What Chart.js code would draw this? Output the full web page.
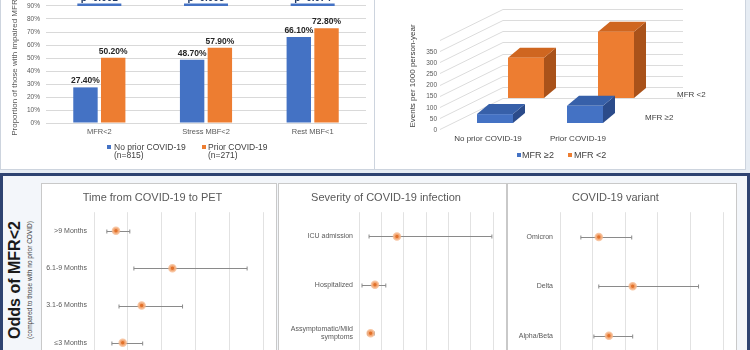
<!DOCTYPE html>
<html>
<head>
<meta charset="utf-8">
<script src="https://cdn.jsdelivr.net/npm/chart.js@4.4.0/dist/chart.umd.min.js"></script>
<style>
  html, body { margin: 0; padding: 0; width: 750px; height: 350px; overflow: hidden; background: #e6ecf3; font-family: "Liberation Sans", Arial, sans-serif; }
  canvas { position: absolute; }
  .box { position: absolute; box-sizing: border-box; background: #fff; border: 1px solid #cdd4de; }
  #bottom { position: absolute; box-sizing: border-box; left: 0; top: 173px; width: 750px; height: 200px; border: 3px solid #2e4371; background: #f3f6fa; }
  .panel { position: absolute; box-sizing: border-box; top: 183px; height: 200px; background: #fff; border: 1px solid #c9c9c9; }
  .lg { position: absolute; font-size: 8.5px; line-height: 8px; color: #404040; white-space: nowrap; }
  .sq { position: absolute; width: 4px; height: 4px; }
  .rot { position: absolute; transform: rotate(-90deg); text-align: center; white-space: nowrap; }
</style>
</head>
<body>
<div class="box" style="left:0;top:-10px;width:375px;height:180px"></div>
<div class="box" style="left:374px;top:-10px;width:372px;height:180px"></div>
<div id="bottom"></div>
<div class="panel" style="left:41px;width:236px"></div>
<div class="panel" style="left:278px;width:229px"></div>
<div class="panel" style="left:507px;width:230px"></div>

<canvas id="barChart" width="374" height="170" style="left:0;top:-25px"></canvas>
<canvas id="cubeChart" width="366" height="150" style="left:380px;top:0"></canvas>
<canvas id="timeChart" width="234" height="184" style="left:42px;top:184px"></canvas>
<canvas id="severityChart" width="227" height="180" style="left:279px;top:184px"></canvas>
<canvas id="variantChart" width="228" height="183" style="left:508px;top:184px"></canvas>

<!-- legends and free text -->
<div class="sq" style="left:107px;top:145px;background:#4472c4"></div>
<div class="lg" style="left:114px;top:143px">No prior COVID-19<br>(n=815)</div>
<div class="sq" style="left:202px;top:145px;background:#ed7d31"></div>
<div class="lg" style="left:208px;top:143px">Prior COVID-19<br>(n=271)</div>

<div class="rot" style="left:343px;top:71px;width:140px;height:10px;line-height:10px;font-size:8px;color:#404040">Events per 1000 person-year</div>
<div class="sq" style="left:517px;top:153px;background:#4472c4"></div>
<div class="lg" style="left:522px;top:150px;font-size:9px;line-height:10px">MFR ≥2</div>
<div class="sq" style="left:568px;top:153px;background:#ed7d31"></div>
<div class="lg" style="left:574px;top:150px;font-size:9px;line-height:10px">MFR &lt;2</div>

<div class="rot" style="left:-85px;top:270px;width:200px;height:20px;line-height:20px;font-size:16px;font-weight:bold;color:#1a1a1a">Odds of MFR&lt;2</div>
<div class="rot" style="left:-70px;top:276px;width:200px;height:8px;line-height:8px;font-size:6.5px;color:#404040">(compared to those with no prior COVID)</div>

<script>
Chart.defaults.font.family = '"Liberation Sans", Arial, sans-serif';

// top left: impaired flow proportions
var flowMeasures = ['MFR<2', 'Stress MBF<2', 'Rest MBF<1'];
var noPriorPct = [27.4, 48.7, 66.1];
var priorPct = [50.2, 57.9, 72.8];
var pValues = ['p<0.001', 'p=0.003', 'p=0.074'];

// top right: events per 1000 person-year
var covidGroups = ['No prior COVID-19', 'Prior COVID-19'];
var eventsMfrHigh = [40, 77];
var eventsMfrLow = [181, 298];

// bottom: odds of MFR<2
var timeGroups = ['>9 Months', '6.1-9 Months', '3.1-6 Months', '≤3 Months'];
var timeOdds = [0.65, 2.32, 1.41, 0.85];
var timeLow = [0.38, 1.18, 0.74, 0.53];
var timeHigh = [1.06, 4.53, 2.62, 1.44];

var severityGroups = ['ICU admission', 'Hospitalized', ['Assymptomatic/Mild', 'symptoms']];
var severityOdds = [3.4, 1.43, 1.04];
var severityLow = [0.9, 0.27, 0.78];
var severityHigh = [11.9, 2.4, 1.36];

var variantGroups = ['Omicron', 'Delta', 'Alpha/Beta'];
var variantOdds = [1.19, 2.23, 1.5];
var variantLow = [0.64, 1.19, 1.04];
var variantHigh = [2.2, 4.25, 2.23];

// tick padding is also added above/below a vertical axis, drop it
function fixWidth(w) {
    return function (s) {
        s.width = w;
        s.paddingTop = 0;
        s.paddingBottom = 0;
    };
}

var barLabels = {
    id: 'barLabels',
    afterDatasetsDraw: function (chart) {
        var ctx = chart.ctx;
        ctx.save();
        ctx.font = 'bold 8.5px "Liberation Sans", Arial';
        ctx.fillStyle = '#262626';
        ctx.textAlign = 'center';
        ctx.textBaseline = 'bottom';
        chart.data.datasets.forEach(function (ds, i) {
            chart.getDatasetMeta(i).data.forEach(function (bar, j) {
                ctx.fillText(ds.data[j].toFixed(2) + '%', bar.x, bar.y - 2);
            });
        });
        var xs = chart.scales.x, ys = chart.scales.y;
        var yLine = ys.getPixelForValue(91);
        pValues.forEach(function (p, j) {
            var cx = xs.getPixelForValue(j);
            ctx.strokeStyle = '#4472c4';
            ctx.lineWidth = 2.5;
            ctx.beginPath();
            ctx.moveTo(cx - 22, yLine);
            ctx.lineTo(cx + 22, yLine);
            ctx.stroke();
            ctx.fillStyle = '#1f3864';
            ctx.font = 'bold 10px "Liberation Sans", Arial';
            ctx.textBaseline = 'alphabetic';
            ctx.fillText(p, cx, yLine - 4);
        });
        ctx.restore();
    }
};

new Chart(document.getElementById('barChart').getContext('2d'), {
    type: 'bar',
    data: {
        labels: flowMeasures,
        datasets: [{
            label: 'No prior COVID-19 (n=815)',
            data: noPriorPct,
            backgroundColor: '#4472c4',
            categoryPercentage: 0.52,
            barPercentage: 0.88
        }, {
            label: 'Prior COVID-19 (n=271)',
            data: priorPct,
            backgroundColor: '#ed7d31',
            categoryPercentage: 0.52,
            barPercentage: 0.88
        }]
    },
    options: {
        responsive: false,
        animation: false,
        devicePixelRatio: 1,
        layout: { padding: { top: 18, right: 8, left: 0, bottom: 5 } },
        plugins: { legend: { display: false }, tooltip: { enabled: false } },
        scales: {
            x: {
                grid: { display: false, drawTicks: false },
                border: { color: '#d9d9d9' },
                ticks: { color: '#595959', font: { size: 7.5 }, padding: 4 },
                afterFit: function (s) { s.height = 17; }
            },
            y: {
                min: 0,
                max: 100,
                ticks: { stepSize: 10, color: '#595959', font: { size: 6.5 }, padding: 6, callback: function (v) { return v + '%'; } },
                grid: { color: '#d9d9d9', drawTicks: false },
                border: { display: false },
                title: { display: true, text: 'Proportion of those with impaired MFR/MBF', color: '#595959', font: { size: 8 }, padding: { top: 10, bottom: 0 } },
                afterFit: fixWidth(46)
            }
        }
    },
    plugins: [barLabels]
});

// fake 3D boxes, back row (MFR<2) on the wall, front row shifted forward
var rowShift = [[-31, 25], [0, 0]];
var faceColors = [
    { front: '#4472c4', top: '#3760a9', side: '#2b4b8a' },
    { front: '#ed7d31', top: '#cf6620', side: '#a9521a' }
];
var cubes = {
    id: 'cubes',
    beforeDatasetsDraw: function (chart) {
        var ctx = chart.ctx, a = chart.chartArea, ys = chart.scales.y;
        ctx.save();
        ctx.strokeStyle = '#dcdcdc';
        ctx.lineWidth = 1;
        ys.ticks.forEach(function (t) {
            var y = Math.round(ys.getPixelForValue(t.value)) + 0.5;
            ctx.beginPath();
            ctx.moveTo(a.left - 41, y + 31);
            ctx.lineTo(a.left + 22, y);
            ctx.lineTo(a.right + 22, y);
            ctx.stroke();
        });
        var dx = 12, dy = -10;
        [1, 0].forEach(function (i) {
            var c = faceColors[i], sh = rowShift[i];
            chart.getDatasetMeta(i).data.forEach(function (bar) {
                var l = bar.x - bar.width / 2 + sh[0], r = bar.x + bar.width / 2 + sh[0];
                var t = bar.y + sh[1], b = bar.base + sh[1];
                ctx.fillStyle = c.side;
                ctx.beginPath();
                ctx.moveTo(r, t); ctx.lineTo(r + dx, t + dy); ctx.lineTo(r + dx, b + dy); ctx.lineTo(r, b);
                ctx.closePath(); ctx.fill();
                ctx.fillStyle = c.top;
                ctx.beginPath();
                ctx.moveTo(l, t); ctx.lineTo(l + dx, t + dy); ctx.lineTo(r + dx, t + dy); ctx.lineTo(r, t);
                ctx.closePath(); ctx.fill();
                ctx.fillStyle = c.front;
                ctx.fillRect(l, t, r - l, b - t);
            });
        });
        ctx.fillStyle = '#404040';
        ctx.font = '8px "Liberation Sans", Arial';
        ctx.textBaseline = 'middle';
        ctx.textAlign = 'left';
        var base = ys.getPixelForValue(0);
        ctx.fillText('MFR <2', a.right + 16, base - 3);
        ctx.fillText('MFR ≥2', a.right - 16, base + 20);
        ctx.restore();
        return false;
    }
};

new Chart(document.getElementById('cubeChart').getContext('2d'), {
    type: 'bar',
    data: {
        labels: covidGroups,
        datasets: [{
            label: 'MFR ≥2',
            data: eventsMfrHigh,
            backgroundColor: '#4472c4'
        }, {
            label: 'MFR <2',
            data: eventsMfrLow,
            backgroundColor: '#ed7d31'
        }]
    },
    options: {
        responsive: false,
        animation: false,
        devicePixelRatio: 1,
        grouped: false,
        categoryPercentage: 0.8,
        barPercentage: 0.5,
        layout: { padding: { top: 9, right: 85, left: 0, bottom: 0 } },
        plugins: { legend: { display: false }, tooltip: { enabled: false } },
        scales: {
            x: {
                grid: { display: false, drawTicks: false },
                border: { display: false },
                ticks: { color: '#404040', font: { size: 8 }, padding: 36, labelOffset: -38 },
                afterFit: function (s) { s.height = 52; }
            },
            y: {
                min: 0,
                max: 400,
                grid: { display: false, drawTicks: false },
                border: { display: false },
                ticks: { stepSize: 50, autoSkip: false, color: '#595959', font: { size: 6.5 }, padding: 44, labelOffset: 32,
                    callback: function (v) { return v === 400 ? '' : v; } },
                afterFit: fixWidth(101)
            }
        }
    },
    plugins: [cubes]
});

var errorBars = {
    id: 'errorBars',
    beforeDatasetsDraw: function (chart, args, opts) {
        var ctx = chart.ctx, xs = chart.scales.x, ys = chart.scales.y;
        ctx.save();
        ctx.strokeStyle = '#8a8a8a';
        ctx.lineWidth = 1;
        opts.low.forEach(function (lo, i) {
            var y = Math.round(ys.getPixelForValue(i)) + 0.5;
            var x1 = xs.getPixelForValue(lo), x2 = xs.getPixelForValue(opts.high[i]);
            ctx.beginPath();
            ctx.moveTo(x1, y); ctx.lineTo(x2, y);
            ctx.moveTo(x1, y - 2); ctx.lineTo(x1, y + 2);
            ctx.moveTo(x2, y - 2); ctx.lineTo(x2, y + 2);
            ctx.stroke();
        });
        ctx.restore();
    }
};

function forestChart(id, title, groups, odds, low, high, maxX, step, yWidth, pad) {
    return new Chart(document.getElementById(id).getContext('2d'), {
        type: 'scatter',
        data: {
            datasets: [{
                data: odds.map(function (v, i) { return { x: v, y: i }; }),
                pointRadius: 3,
                pointBackgroundColor: '#e2712a',
                pointBorderColor: 'rgba(246,184,140,0.8)',
                pointBorderWidth: 2.5
            }]
        },
        options: {
            responsive: false,
            animation: false,
            devicePixelRatio: 1,
            layout: { padding: { top: 0, right: 13, left: 0, bottom: 0 } },
            plugins: {
                legend: { display: false },
                tooltip: { enabled: false },
                title: { display: true, text: title, color: '#595959', font: { size: 11, weight: 'normal' }, padding: { top: 7, bottom: 8 } },
                errorBars: { low: low, high: high }
            },
            scales: {
                x: {
                    type: 'linear',
                    min: 0,
                    max: maxX,
                    ticks: { display: false, stepSize: step },
                    grid: { color: '#e2e2e2', drawTicks: false },
                    border: { display: false },
                    afterFit: function (s) { s.height = 0; }
                },
                y: {
                    type: 'category',
                    labels: groups,
                    offset: true,
                    grid: { display: false, drawTicks: false },
                    border: { display: false },
                    ticks: { color: '#595959', font: { size: 7 }, padding: pad },
                    afterFit: fixWidth(yWidth)
                }
            }
        },
        plugins: [errorBars]
    });
}

forestChart('timeChart', 'Time from COVID-19 to PET', timeGroups, timeOdds, timeLow, timeHigh, 5, 1, 52, 7);
forestChart('severityChart', 'Severity of COVID-19 infection', severityGroups, severityOdds, severityLow, severityHigh, 12, 2, 80, 6);
forestChart('variantChart', 'COVID-19 variant', variantGroups, variantOdds, variantLow, variantHigh, 5, 1, 52, 7);
</script>
</body>
</html>
